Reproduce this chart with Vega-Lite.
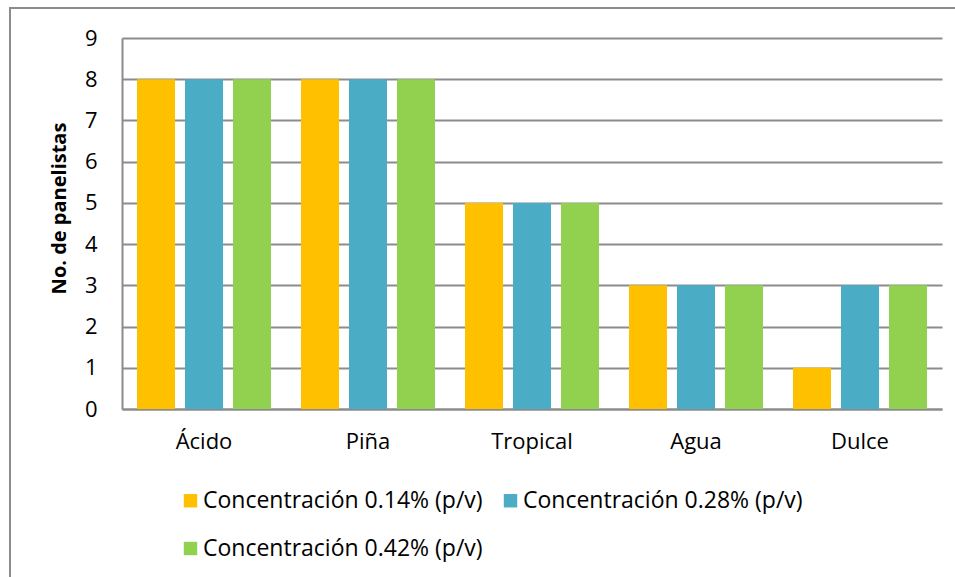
{
  "$schema": "https://vega.github.io/schema/vega-lite/v6.json",
  "width": 955,
  "height": 577,
  "padding": {"left": 10, "top": 8, "right": 0, "bottom": 0},
  "autosize": {"type": "none"},
  "background": "white",
  "config": {
    "font": "Open Sans",
    "view": {"stroke": "#8c8c8c", "strokeWidth": 2}
  },
  "data": {
    "values": [
      {"atributo": "Ácido", "serie": "Concentración 0.14% (p/v)", "panelistas": 8},
      {"atributo": "Ácido", "serie": "Concentración 0.28% (p/v)", "panelistas": 8},
      {"atributo": "Ácido", "serie": "Concentración 0.42% (p/v)", "panelistas": 8},
      {"atributo": "Piña", "serie": "Concentración 0.14% (p/v)", "panelistas": 8},
      {"atributo": "Piña", "serie": "Concentración 0.28% (p/v)", "panelistas": 8},
      {"atributo": "Piña", "serie": "Concentración 0.42% (p/v)", "panelistas": 8},
      {"atributo": "Tropical", "serie": "Concentración 0.14% (p/v)", "panelistas": 5},
      {"atributo": "Tropical", "serie": "Concentración 0.28% (p/v)", "panelistas": 5},
      {"atributo": "Tropical", "serie": "Concentración 0.42% (p/v)", "panelistas": 5},
      {"atributo": "Agua", "serie": "Concentración 0.14% (p/v)", "panelistas": 3},
      {"atributo": "Agua", "serie": "Concentración 0.28% (p/v)", "panelistas": 3},
      {"atributo": "Agua", "serie": "Concentración 0.42% (p/v)", "panelistas": 3},
      {"atributo": "Dulce", "serie": "Concentración 0.14% (p/v)", "panelistas": 1},
      {"atributo": "Dulce", "serie": "Concentración 0.28% (p/v)", "panelistas": 3},
      {"atributo": "Dulce", "serie": "Concentración 0.42% (p/v)", "panelistas": 3}
    ]
  },
  "mark": {"type": "bar"},
  "encoding": {
    "x": {
      "field": "atributo",
      "type": "nominal",
      "sort": ["Ácido", "Piña", "Tropical", "Agua", "Dulce"],
      "scale": {"range": [112, 932], "paddingInner": 0.183, "paddingOuter": 0.0915},
      "axis": {
        "title": null,
        "labelAngle": 0,
        "labelFontSize": 22,
        "labelColor": "#000000",
        "labelPadding": 22,
        "ticks": false,
        "tickSize": 0,
        "offset": -176,
        "domainColor": "#8c8c8c",
        "domainWidth": 2
      }
    },
    "xOffset": {
      "field": "serie",
      "type": "nominal",
      "scale": {"paddingInner": 0.208, "paddingOuter": 0}
    },
    "y": {
      "field": "panelistas",
      "type": "quantitative",
      "scale": {"domain": [0, 9], "range": [401, 30], "nice": false},
      "axis": {
        "title": "No. de panelistas",
        "titleFontSize": 20,
        "titleFontWeight": "bold",
        "titleColor": "#000000",
        "titlePadding": 15,
        "titleY": 200,
        "values": [0, 1, 2, 3, 4, 5, 6, 7, 8, 9],
        "labelFontSize": 22,
        "labelColor": "#000000",
        "labelPadding": 25,
        "ticks": false,
        "tickSize": 0,
        "offset": -112,
        "domainColor": "#8c8c8c",
        "domainWidth": 2,
        "grid": true,
        "gridColor": "#8c8c8c",
        "gridWidth": 2
      }
    },
    "color": {
      "field": "serie",
      "type": "nominal",
      "scale": {
        "domain": ["Concentración 0.14% (p/v)", "Concentración 0.28% (p/v)", "Concentración 0.42% (p/v)"],
        "range": ["#FFC000", "#4BACC6", "#92D050"]
      },
      "legend": {
        "title": null,
        "orient": "none",
        "legendX": 169,
        "legendY": 481,
        "direction": "horizontal",
        "columns": 2,
        "columnPadding": 16,
        "rowPadding": 24,
        "symbolType": "square",
        "symbolSize": 180,
        "symbolStrokeWidth": 0,
        "symbolOpacity": 1,
        "labelFontSize": 23,
        "labelColor": "#000000",
        "labelOffset": 1,
        "labelLimit": 400
      }
    }
  }
}
